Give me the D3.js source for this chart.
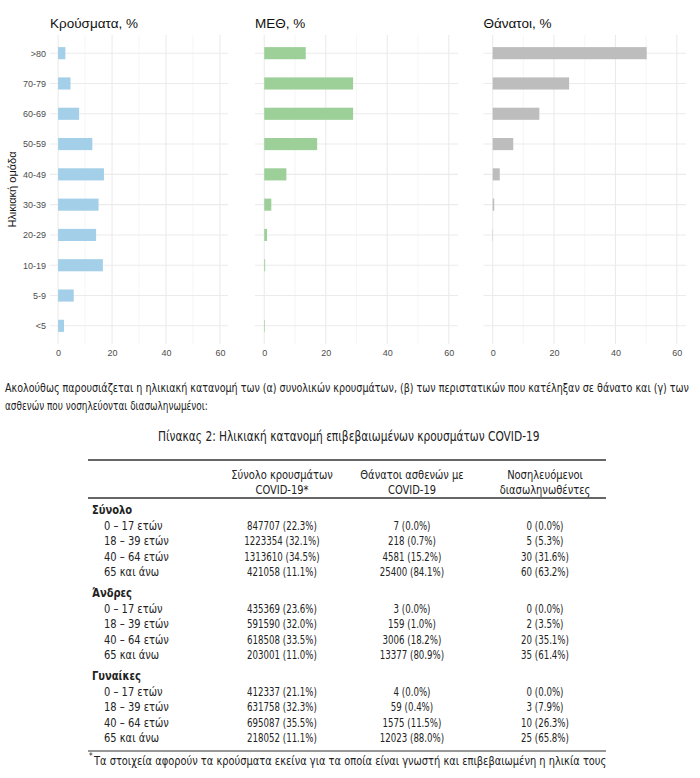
<!DOCTYPE html>
<html>
<head>
<meta charset="utf-8">
<script src="https://cdn.jsdelivr.net/npm/d3@7"></script>
<style>
  body { margin: 0; background: #fff; }
  .tick text { fill: #4d4d4d; }
  .doc { font-family: "Liberation Sans Narrow", "DejaVu Sans Condensed", sans-serif; fill: #222; }
</style>
</head>
<body>
<div id="chart-area"></div>
<script>
// chart data
let ageGroups = ["<5", "5-9", "10-19", "20-29", "30-39", "40-49", "50-59", "60-69", "70-79", ">80"];
let casesPct = [2.2, 5.8, 16.6, 14.1, 15.0, 17.0, 12.7, 7.8, 4.6, 2.7];
let icuPct = [0.2, 0, 0.3, 0.9, 2.3, 7.2, 17.2, 28.9, 28.9, 13.5];
let deathsPct = [0, 0, 0, 0.1, 0.5, 2.3, 6.7, 15.2, 24.9, 50.2];
let xTicks = [0, 20, 40, 60];
let panelTitles = ["Κρούσματα, %", "ΜΕΘ, %", "Θάνατοι, %"];

// table data
let groupNames = ["Σύνολο", "Άνδρες", "Γυναίκες"];
let rowLabels = ["0 – 17 ετών", "18 – 39 ετών", "40 – 64 ετών", "65 και άνω"];
let colHeaders = [["Σύνολο κρουσμάτων", "COVID-19*"], ["Θάνατοι ασθενών με", "COVID-19"], ["Νοσηλευόμενοι", "διασωληνωθέντες"]];
let casesN = [[847707, 1223354, 1313610, 421058], [435369, 591590, 618508, 203001], [412337, 631758, 695087, 218052]];
let casesP = [[22.3, 32.1, 34.5, 11.1], [23.6, 32.0, 33.5, 11.0], [21.1, 32.3, 35.5, 11.1]];
let deathsN = [[7, 218, 4581, 25400], [3, 159, 3006, 13377], [4, 59, 1575, 12023]];
let deathsP = [[0.0, 0.7, 15.2, 84.1], [0.0, 1.0, 18.2, 80.9], [0.0, 0.4, 11.5, 88.0]];
let intubN = [[0, 5, 30, 60], [0, 2, 20, 35], [0, 3, 10, 25]];
let intubP = [[0.0, 5.3, 31.6, 63.2], [0.0, 3.5, 35.1, 61.4], [0.0, 7.9, 26.3, 65.8]];

let W = 700, H = 778;
let svg = d3.select("#chart-area").append("svg")
  .attr("width", W).attr("height", H);

// --- bar panels ---
let panels = [
  { values: casesPct, color: "#a3cfe9", left: 50, right: 228 },
  { values: icuPct, color: "#9dcf98", left: 255, right: 458 },
  { values: deathsPct, color: "#bdbdbd", left: 483.5, right: 686 }
];
let panelTop = 35, panelBottom = 344;

let y = d3.scalePoint()
  .domain(ageGroups.slice().reverse())
  .range([panelTop, panelBottom])
  .padding(0.6);
let barH = y.step() * 0.4;

panels.forEach((p, i) => {
  let x = d3.scaleLinear().domain([-3, 63]).range([p.left, p.right]);
  let g = svg.append("g").style("font-family", "Liberation Sans, Arial, sans-serif");

  // grid
  g.selectAll(".minor").data([10, 30, 50]).enter().append("line")
    .attr("x1", d => x(d)).attr("x2", d => x(d))
    .attr("y1", panelTop).attr("y2", panelBottom)
    .attr("stroke", "#f0f0f0").attr("stroke-width", 0.6);
  g.selectAll(".major").data(xTicks).enter().append("line")
    .attr("x1", d => x(d)).attr("x2", d => x(d))
    .attr("y1", panelTop).attr("y2", panelBottom)
    .attr("stroke", "#ebebeb").attr("stroke-width", 1.1);
  g.selectAll(".hgrid").data(ageGroups).enter().append("line")
    .attr("x1", p.left).attr("x2", p.right)
    .attr("y1", d => y(d)).attr("y2", d => y(d))
    .attr("stroke", "#ebebeb").attr("stroke-width", 1.1);

  // bars
  g.selectAll("rect").data(ageGroups).enter().append("rect")
    .attr("x", x(0))
    .attr("y", d => y(d) - barH / 2)
    .attr("width", (d, k) => x(p.values[k]) - x(0))
    .attr("height", barH)
    .attr("fill", p.color);

  // x axis
  let xAxis = d3.axisBottom(x).tickValues(xTicks).tickSize(0).tickPadding(6);
  g.append("g")
    .attr("transform", "translate(0," + panelBottom + ")")
    .call(xAxis)
    .call(a => a.select(".domain").remove())
    .selectAll("text").style("font-size", "9px").style("font-family", "Liberation Sans, Arial, sans-serif");

  // title
  g.append("text")
    .attr("x", p.left).attr("y", 28)
    .style("font-size", "13.5px").attr("fill", "#111")
    .text(panelTitles[i]);

  if (i == 0) {
    let yAxis = d3.axisLeft(y).tickSize(0).tickPadding(4);
    g.append("g")
      .attr("transform", "translate(" + p.left + ",0)")
      .call(yAxis)
      .call(a => a.select(".domain").remove())
      .selectAll("text").style("font-size", "9px").style("font-family", "Liberation Sans, Arial, sans-serif");
    g.append("text")
      .attr("transform", "translate(16," + ((panelTop + panelBottom) / 2) + ") rotate(-90)")
      .attr("text-anchor", "middle")
      .style("font-size", "11px").attr("fill", "#111")
      .text("Ηλικιακή ομάδα");
  }
});

let doc = svg.append("g").attr("class", "doc");

// text squeezed sideways to a given width (fallback font is wider than the original)
function fitText(x, y, t, size, width) {
  let el = doc.append("text").style("font-size", size + "px").text(t);
  let sx = width / el.node().getComputedTextLength();
  el.attr("transform", "translate(" + x + "," + y + ") scale(" + sx + ",1)");
  return el;
}

// --- paragraph ---
fitText(5, 392, "Ακολούθως παρουσιάζεται η ηλικιακή κατανομή των (α) συνολικών κρουσμάτων, (β) των περιστατικών που κατέληξαν σε θάνατο και (γ) των", 11.5, 685);
fitText(5, 410, "ασθενών που νοσηλεύονται διασωληνωμένοι:", 11.5, 203);
fitText(158, 441, "Πίνακας 2: Ηλικιακή κατανομή επιβεβαιωμένων κρουσμάτων COVID-19", 13.5, 382);

// --- table ---
let tLeft = 88, tRight = 606;
let colX = [282, 412, 545];
let fmt = (n, p) => n + " (" + p.toFixed(1) + "%)";

function cell(x, y, t, sx, anchor) {
  return doc.append("text")
    .attr("transform", "translate(" + x + "," + y + ") scale(" + sx + ",1)")
    .attr("text-anchor", anchor).style("font-size", "12px").text(t);
}

doc.append("line").attr("x1", tLeft).attr("x2", tRight).attr("y1", 460).attr("y2", 460)
  .attr("stroke", "#333").attr("stroke-width", 1.5);
doc.append("line").attr("x1", tLeft).attr("x2", tRight).attr("y1", 498).attr("y2", 498)
  .attr("stroke", "#333").attr("stroke-width", 1.5);

colHeaders.forEach((h, c) => {
  h.forEach((line, l) => cell(colX[c], 479 + l * 15, line, 0.92, "middle"));
});

groupNames.forEach((gName, gi) => {
  let gy = 514 + gi * 83;
  cell(92, gy, gName, 0.92, "start").style("font-weight", "bold");
  rowLabels.forEach((r, ri) => {
    let ry = gy + 16 + ri * 15.3;
    cell(104, ry, r, 0.92, "start");
    let cells = [fmt(casesN[gi][ri], casesP[gi][ri]), fmt(deathsN[gi][ri], deathsP[gi][ri]), fmt(intubN[gi][ri], intubP[gi][ri])];
    cells.forEach((t, c) => cell(colX[c], ry, t, 0.8, "middle"));
  });
});

doc.append("line").attr("x1", tLeft).attr("x2", tRight).attr("y1", 751).attr("y2", 751)
  .attr("stroke", "#333").attr("stroke-width", 1.2);
doc.append("text").attr("x", 89).attr("y", 759).style("font-size", "8px").text("*");
fitText(94, 765, "Τα στοιχεία αφορούν τα κρούσματα εκείνα για τα οποία είναι γνωστή και επιβεβαιωμένη η ηλικία τους", 12, 513);
</script>
</body>
</html>
